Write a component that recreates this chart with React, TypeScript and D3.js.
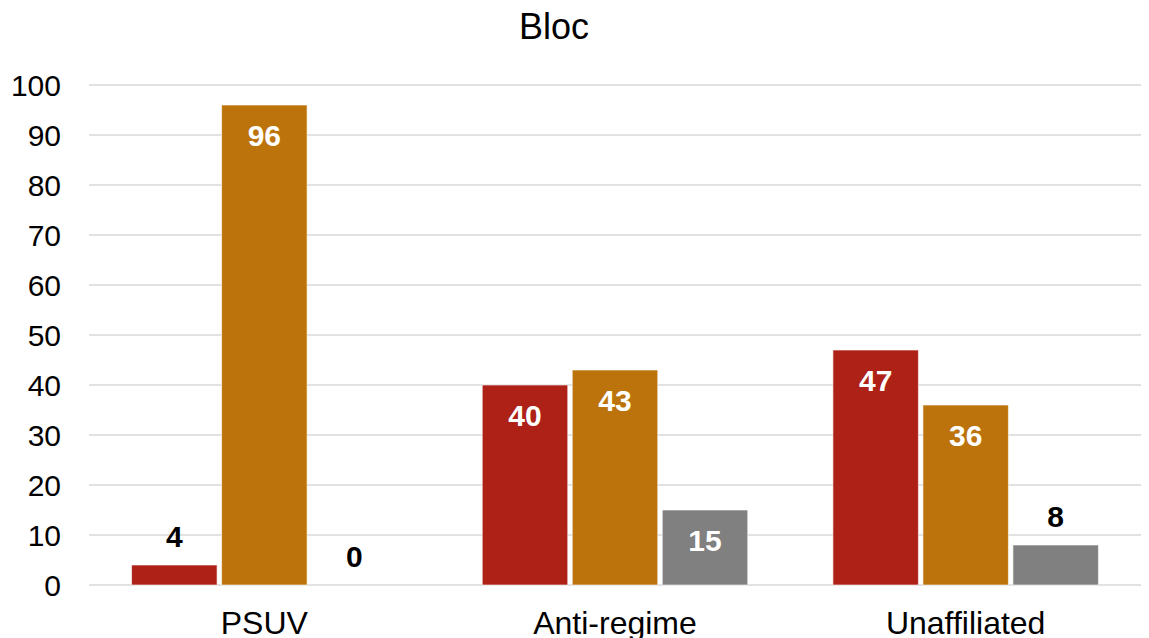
import React from "react";
import * as d3 from "d3";

const categories = ["PSUV", "Anti-regime", "Unaffiliated"];
const seriesNames = ["A", "B", "C"];
const seriesColors = ["#AE2117", "#BD730B", "#808080"];
const valuesA = [4, 40, 47];
const valuesB = [96, 43, 36];
const valuesC = [0, 15, 8];
const yTicks = [0, 10, 20, 30, 40, 50, 60, 70, 80, 90, 100];
const title = "Bloc";

const W = 1149;
const H = 638;
const margin = { left: 89, right: 8, top: 85, bottom: 53 };

export default function App() {
  const series = [valuesA, valuesB, valuesC];
  const x0 = d3
    .scaleBand<string>()
    .domain(categories)
    .range([margin.left, W - margin.right])
    .paddingInner(0)
    .paddingOuter(0);
  const x1 = d3
    .scaleBand<string>()
    .domain(seriesNames)
    .range([0, x0.bandwidth()])
    .paddingInner(0.05)
    .paddingOuter(0.473);
  const y = d3.scaleLinear().domain([0, 100]).range([H - margin.bottom, margin.top]);
  const font = "'Liberation Sans', Arial, sans-serif";

  return (
    <svg
      width={W}
      height={H}
      style={{ position: "absolute", left: 0, top: 0, background: "#fff" }}
      fontFamily={font}
    >
      <text x={554} y={39} fontSize={36} textAnchor="middle" fill="#000">
        {title}
      </text>
      {yTicks.map((t) => (
        <g key={t}>
          <line
            x1={margin.left}
            x2={W - margin.right}
            y1={y(t)}
            y2={y(t)}
            stroke="#D9D9D9"
            strokeWidth={1.5}
          />
          <text x={61} y={y(t) + 10.5} fontSize={30} textAnchor="end" fill="#000">
            {t}
          </text>
        </g>
      ))}
      {categories.map((c, ci) => (
        <g key={c} transform={`translate(${x0(c)},0)`}>
          {seriesNames.map((s, si) => {
            const v = series[si][ci];
            const bx = x1(s)!;
            const bw = x1.bandwidth();
            const top = y(v);
            const inside = v >= 10;
            return (
              <g key={s}>
                {v > 0 && (
                  <rect
                    x={bx}
                    y={top}
                    width={bw}
                    height={y(0) - top}
                    fill={seriesColors[si]}
                    stroke="#fff"
                    strokeOpacity={0.6}
                    strokeWidth={1}
                  />
                )}
                <text
                  x={bx + bw / 2}
                  y={inside ? top + 41 : top - 18}
                  fontSize={30}
                  fontWeight="bold"
                  textAnchor="middle"
                  fill={inside ? "#fff" : "#000"}
                >
                  {v}
                </text>
              </g>
            );
          })}
          <text
            x={x0.bandwidth() / 2}
            y={634}
            fontSize={32}
            textAnchor="middle"
            fill="#000"
          >
            {c}
          </text>
        </g>
      ))}
    </svg>
  );
}
